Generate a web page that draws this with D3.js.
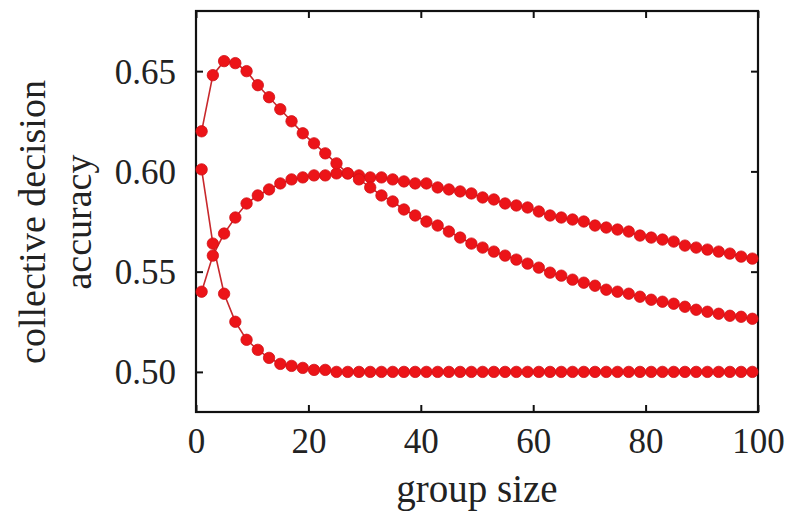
<!DOCTYPE html>
<html>
<head>
<meta charset="utf-8">
<script src="https://cdn.jsdelivr.net/npm/d3@7"></script>
<style>
  html, body { margin: 0; padding: 0; background: #fff; }
  svg { display: block; }
  text { font-family: "Liberation Serif", "DejaVu Serif", serif; fill: #222; }
</style>
</head>
<body>
<svg id="chart" width="798" height="521"></svg>
<script>
// group sizes (odd group sizes only)
const groupSizes = [1,3,5,7,9,11,13,15,17,19,21,23,25,27,29,31,33,35,37,39,41,43,45,47,49,
                    51,53,55,57,59,61,63,65,67,69,71,73,75,77,79,81,83,85,87,89,91,93,95,97,99];

// accuracy curve that peaks early then decays
const accuracyPeaked = [0.620,0.648,0.655,0.654,0.650,0.643,0.637,0.631,0.625,0.619,
                        0.614,0.609,0.604,0.599,0.596,0.592,0.588,0.585,0.581,0.578,
                        0.575,0.573,0.570,0.567,0.564,0.562,0.560,0.558,0.556,0.554,
                        0.552,0.5495,0.548,0.546,0.5445,0.543,0.541,0.540,0.539,0.5375,
                        0.536,0.535,0.534,0.5325,0.531,0.530,0.529,0.528,0.5275,0.5265];

// accuracy curve that rises to a broad maximum near 25
const accuracyBroad = [0.540,0.558,0.569,0.577,0.584,0.588,0.591,0.594,0.596,0.597,
                       0.598,0.598,0.599,0.599,0.598,0.597,0.597,0.596,0.595,0.594,
                       0.594,0.592,0.591,0.590,0.589,0.587,0.586,0.584,0.583,0.582,
                       0.580,0.578,0.577,0.576,0.575,0.573,0.572,0.571,0.570,0.568,
                       0.567,0.566,0.565,0.563,0.562,0.561,0.560,0.559,0.5575,0.5565];

// accuracy curve that falls quickly to chance level
const accuracyFalling = [0.601,0.564,0.539,0.525,0.516,0.511,0.507,0.504,0.503,0.502,
                         0.501,0.501,0.500,0.500,0.500,0.500,0.500,0.500,0.500,0.500,
                         0.500,0.500,0.500,0.500,0.500,0.500,0.500,0.500,0.500,0.500,
                         0.500,0.500,0.500,0.500,0.500,0.500,0.500,0.500,0.500,0.500,
                         0.500,0.500,0.500,0.500,0.500,0.500,0.500,0.500,0.500,0.500];

const xTicks = [0, 20, 40, 60, 80, 100];
const yTicks = [0.50, 0.55, 0.60, 0.65];
const xTitle = "group size";
const yTitleLines = ["collective decision", "accuracy"];

const series = [accuracyFalling, accuracyBroad, accuracyPeaked];

const svg = d3.select("#chart");
const plot = { left: 196, right: 758, top: 11, bottom: 412 };

const x = d3.scaleLinear().domain([0, 100]).range([plot.left, plot.right]);
const y = d3.scaleLinear().domain([0.48, 0.68]).range([plot.bottom, plot.top]);

const tickLen = 7;

// axes with inward ticks on all four sides
const axes = svg.append("g").attr("class", "axes");
axes.append("g")
  .attr("transform", `translate(0,${plot.bottom})`)
  .call(d3.axisBottom(x).tickValues(xTicks).tickSize(-tickLen).tickPadding(14).tickFormat(d3.format("d")))
  .call(g => g.selectAll("text").style("font-size", "35px").attr("dy", "0.78em"));
axes.append("g")
  .attr("transform", `translate(0,${plot.top})`)
  .call(d3.axisTop(x).tickValues(xTicks).tickSize(-tickLen).tickFormat(""));
axes.append("g")
  .attr("transform", `translate(${plot.left},0)`)
  .call(d3.axisLeft(y).tickValues(yTicks).tickSize(-tickLen).tickPadding(20).tickFormat(d3.format(".2f")))
  .call(g => g.selectAll("text").style("font-size", "35px").attr("dy", "0.34em"));
axes.append("g")
  .attr("transform", `translate(${plot.right},0)`)
  .call(d3.axisRight(y).tickValues(yTicks).tickSize(-tickLen).tickFormat(""));

axes.selectAll(".domain").remove();
axes.selectAll(".tick line").attr("stroke", "#111").attr("stroke-width", 2);
axes.selectAll("text").attr("fill", "#222").attr("font-family", "Liberation Serif, serif");

// frame
svg.append("rect")
  .attr("x", plot.left).attr("y", plot.top)
  .attr("width", plot.right - plot.left).attr("height", plot.bottom - plot.top)
  .attr("fill", "none").attr("stroke", "#111").attr("stroke-width", 2.2);

// curves
const line = d3.line()
  .x((d, i) => x(groupSizes[i]))
  .y(d => y(d));

const curves = svg.append("g").attr("class", "curves");
series.forEach(vals => {
  curves.append("path")
    .datum(vals)
    .attr("d", line)
    .attr("fill", "none")
    .attr("stroke", "#c8282c")
    .attr("stroke-width", 1.6);
});
series.forEach(vals => {
  curves.append("g").selectAll("circle")
    .data(vals)
    .join("circle")
    .attr("cx", (d, i) => x(groupSizes[i]))
    .attr("cy", d => y(d))
    .attr("r", 5.7)
    .attr("fill", "#ec1418")
    .attr("stroke", "#d01016")
    .attr("stroke-width", 0.8);
});

// axis titles
svg.append("text")
  .attr("x", (plot.left + plot.right) / 2)
  .attr("y", 502)
  .attr("text-anchor", "middle")
  .style("font-size", "39px")
  .text(xTitle);

const yTitle = svg.append("text")
  .attr("transform", `translate(45,222) rotate(-90)`)
  .attr("text-anchor", "middle")
  .style("font-size", "38px");
yTitleLines.forEach((t, i) => {
  yTitle.append("tspan")
    .attr("x", 0)
    .attr("dy", i === 0 ? 0 : 46)
    .text(t);
});
</script>
</body>
</html>
